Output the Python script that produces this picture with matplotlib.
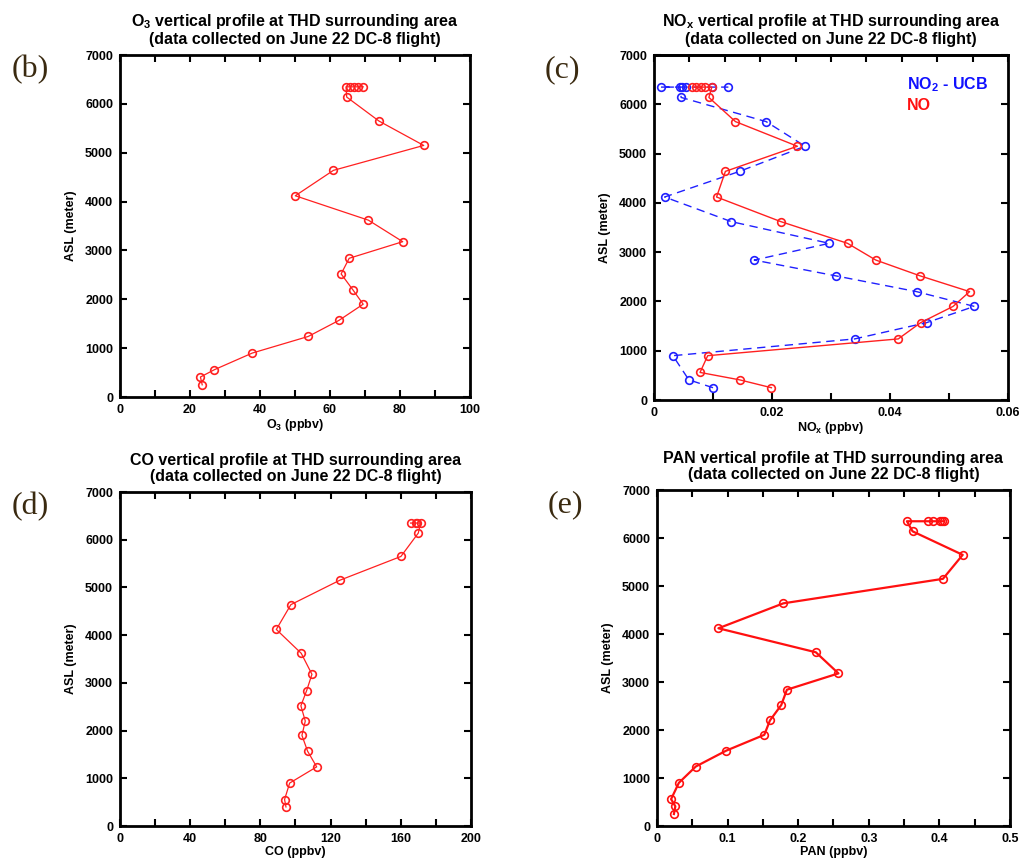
import numpy as np
import matplotlib
matplotlib.use("Agg")
import matplotlib.pyplot as plt
from matplotlib.ticker import MultipleLocator, FixedLocator, NullFormatter

plt.rcParams['font.family'] = ['Liberation Sans', 'DejaVu Sans']
plt.rcParams['font.weight'] = 'bold'
plt.rcParams['mathtext.default'] = 'regular'

# O3 profile (ppbv)
o3_alt = [250, 410, 560, 900, 1240, 1570, 1900, 2200, 2520, 2840, 3180, 3620,
          4120, 4640, 5150, 5650, 6140, 6350, 6350, 6350, 6350, 6350]
o3 = [23.5, 23.0, 27.0, 37.8, 53.8, 62.6, 69.5, 66.5, 63.2, 65.5, 80.8, 71.0,
      50.1, 61.0, 86.8, 74.0, 64.8, 64.6, 65.7, 66.9, 68.1, 69.5]

# NO and NO2 profiles (ppbv)
no_alt = [250, 410, 560, 900, 1240, 1570, 1900, 2200, 2520, 2840, 3180, 3620,
          4120, 4640, 5150, 5650, 6140, 6350, 6350, 6350, 6350, 6350]
no = [0.0199, 0.0145, 0.0078, 0.0091, 0.0414, 0.0452, 0.0507, 0.0535, 0.0451,
      0.0376, 0.0328, 0.0215, 0.0106, 0.0121, 0.0243, 0.0138, 0.0093,
      0.0098, 0.0087, 0.0079, 0.0072, 0.0065]
no2_alt = [250, 410, 900, 1240, 1570, 1900, 2200, 2520, 2840, 3180, 3620,
           4120, 4640, 5150, 5650, 6140, 6350, 6350, 6350, 6350, 6350, 6350]
no2 = [0.0100, 0.0059, 0.0032, 0.0340, 0.0462, 0.0543, 0.0445, 0.0308, 0.0170,
       0.0297, 0.0131, 0.0018, 0.0145, 0.0256, 0.0190, 0.0046,
       0.0044, 0.0011, 0.0048, 0.0055, 0.0099, 0.0126]

# CO profile (ppbv)
co_alt = [400, 555, 900, 1240, 1570, 1900, 2200, 2520, 2840, 3180, 3620,
          4120, 4640, 5150, 5650, 6140, 6350, 6350, 6350, 6350]
co = [94.6, 93.8, 96.7, 112.1, 106.9, 103.7, 105.6, 103.1, 106.4, 109.4, 103.3,
      89.1, 97.4, 125.2, 160.1, 170.0, 171.3, 169.4, 168.5, 165.6]

# PAN profile (ppbv)
pan_alt = [250, 410, 560, 900, 1240, 1570, 1900, 2200, 2520, 2840, 3180, 3620,
           4120, 4640, 5150, 5650, 6140, 6350, 6350, 6350, 6350, 6350, 6350]
pan = [0.024, 0.026, 0.020, 0.031, 0.055, 0.098, 0.152, 0.160, 0.176, 0.184,
       0.257, 0.225, 0.087, 0.179, 0.405, 0.433, 0.362,
       0.354, 0.384, 0.391, 0.401, 0.404, 0.406]

title2 = "(data collected on June 22 DC-8 flight)"

fig = plt.figure(figsize=(10.2, 8.59), dpi=100)
ax_b = fig.add_axes([0.1176, 0.5378, 0.3431, 0.3981])
ax_c = fig.add_axes([0.6412, 0.5343, 0.3470, 0.4016])
ax_d = fig.add_axes([0.1176, 0.0384, 0.3441, 0.3888])
ax_e = fig.add_axes([0.6441, 0.0384, 0.3461, 0.3911])


def style(ax, xmax, major, minor, label, title, tag):
    ax.set_xlim(0, xmax)
    ax.set_ylim(0, 7000)
    ax.xaxis.set_major_locator(MultipleLocator(major))
    ax.xaxis.set_minor_locator(MultipleLocator(minor))
    ax.yaxis.set_major_locator(MultipleLocator(1000))
    ax.tick_params(which='both', direction='in', top=True, right=True,
                   length=5, width=1.5, labelsize=9, pad=5)
    for s in ax.spines.values():
        s.set_linewidth(2)
    for t in ax.get_xticklabels() + ax.get_yticklabels():
        t.set_fontweight('bold')
    ax.set_xlabel(label, fontsize=9, fontweight='bold', labelpad=1)
    ax.set_ylabel("ASL (meter)", fontsize=9, fontweight='bold', labelpad=6)
    ax.set_title(title + "\n" + title2, fontsize=11.5, fontweight='bold',
                 pad=8, linespacing=1.1)
    ax.text(-0.31, 1.0, tag, transform=ax.transAxes, fontsize=23,
            family=['Liberation Serif', 'DejaVu Serif'], fontweight='normal',
            color='#3a2a10', va='top', ha='left')


mk = dict(marker='o', markersize=5.5, markerfacecolor='none', markeredgewidth=1.2)

ax_b.plot(o3, o3_alt, color='#ff2020', linewidth=0.9, markeredgecolor='#ff2020', **mk)
style(ax_b, 100, 20, 10, "O$_3$ (ppbv)",
      "O$_3$ vertical profile at THD surrounding area", "(b)")

ax_c.plot(no2, no2_alt, color='#2020ff', linewidth=1.0, linestyle=(0, (6, 4)),
          markeredgecolor='#2020ff', **mk)
ax_c.plot(no, no_alt, color='#ff2020', linewidth=1.0, markeredgecolor='#ff2020', **mk)
style(ax_c, 0.06, 0.02, 0.01, "NO$_x$ (ppbv)",
      "NO$_x$ vertical profile at THD surrounding area", "(c)")
ax_c.tick_params(top=False, which='both')
top_c = ax_c.secondary_xaxis('top')
top_c.xaxis.set_major_locator(FixedLocator(np.linspace(0, 0.06, 11)))
top_c.xaxis.set_major_formatter(NullFormatter())
top_c.tick_params(direction='in', length=5, width=1.5)
top_c.spines['top'].set_linewidth(2)
ax_c.xaxis.set_major_formatter(plt.FuncFormatter(lambda v, p: "0" if v == 0 else f"{v:.2f}"))
ax_c.text(0.715, 0.9, "NO$_2$ - UCB", transform=ax_c.transAxes, color='#1010ff',
          fontsize=11.5, fontweight='bold')
ax_c.text(0.715, 0.84, "NO", transform=ax_c.transAxes, color='#ff1010',
          fontsize=11.5, fontweight='bold')

ax_d.plot(co, co_alt, color='#ff2020', linewidth=0.9, markeredgecolor='#ff2020', **mk)
style(ax_d, 200, 40, 20, "CO (ppbv)",
      "CO vertical profile at THD surrounding area", "(d)")

ax_e.plot(pan, pan_alt, color='#ff1010', linewidth=1.6, markeredgecolor='#ff1010', **mk)
style(ax_e, 0.5, 0.1, 0.05, "PAN (ppbv)",
      "PAN vertical profile at THD surrounding area", "(e)")
ax_e.xaxis.set_major_formatter(plt.FuncFormatter(lambda v, p: "0" if v == 0 else f"{v:.1f}"))

fig.savefig("out.png", dpi=100)
